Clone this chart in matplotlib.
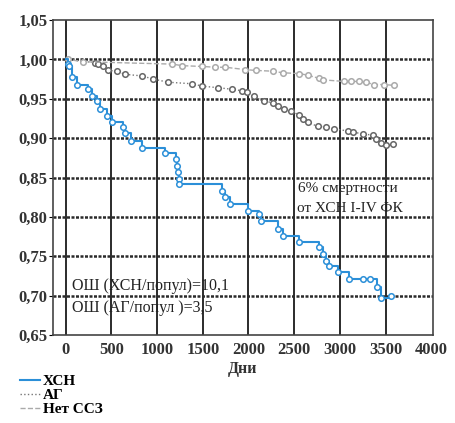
import matplotlib
matplotlib.use('Agg')
import matplotlib.pyplot as plt

# ХСН (blue, step)
hsn_days = [0, 22, 33, 66, 120, 242, 285, 340, 374, 450, 505, 626, 648, 714, 835, 1088,
            1209, 1220, 1230, 1238, 1242, 1714, 1747, 1802, 2000, 2110, 2132, 2319, 2374,
            2549, 2769, 2813, 2846, 2879, 2978, 3099, 3253, 3330, 3407, 3451, 3560]
hsn_surv = [1.0, 0.994, 0.991, 0.977, 0.967, 0.962, 0.953, 0.947, 0.937, 0.928, 0.920, 0.914,
            0.907, 0.896, 0.888, 0.881, 0.873, 0.865, 0.857, 0.848, 0.842, 0.833, 0.825, 0.816,
            0.808, 0.804, 0.795, 0.785, 0.776, 0.768, 0.762, 0.753, 0.744, 0.738, 0.730,
            0.721, 0.721, 0.721, 0.711, 0.697, 0.699]

# АГ (dark gray, dotted)
ag_days = [0, 319, 352, 407, 462, 560, 648, 835, 956, 1121, 1385, 1495, 1670, 1824, 1934,
           1989, 2055, 2165, 2264, 2319, 2385, 2462, 2549, 2593, 2648, 2758, 2846, 2934,
           3088, 3143, 3253, 3363, 3396, 3451, 3505, 3582]
ag_surv = [1.0, 0.996, 0.994, 0.991, 0.986, 0.985, 0.981, 0.979, 0.975, 0.971, 0.969, 0.966,
           0.964, 0.962, 0.960, 0.958, 0.953, 0.947, 0.945, 0.941, 0.937, 0.934, 0.930,
           0.924, 0.920, 0.915, 0.914, 0.912, 0.909, 0.908, 0.905, 0.904, 0.899, 0.894,
           0.891, 0.892]

# Нет ССЗ (light gray, dashed)
norm_days = [0, 22, 187, 1165, 1275, 1495, 1637, 1747, 1967, 2077, 2264, 2374, 2549, 2648,
             2769, 2813, 3044, 3121, 3209, 3286, 3374, 3484, 3593]
norm_surv = [1.0, 1.0, 0.997, 0.994, 0.992, 0.991, 0.990, 0.990, 0.987, 0.986, 0.985, 0.983,
             0.982, 0.980, 0.976, 0.974, 0.972, 0.972, 0.972, 0.971, 0.968, 0.968, 0.967]

x_ticks = [0, 500, 1000, 1500, 2000, 2500, 3000, 3500, 4000]
y_ticks = [0.65, 0.70, 0.75, 0.80, 0.85, 0.90, 0.95, 1.00, 1.05]

plt.rcParams['font.family'] = ['Liberation Serif', 'DejaVu Serif']

fig = plt.figure(figsize=(4.55, 4.23), dpi=100)
ax = fig.add_axes([53 / 455, 1 - 335 / 423, 380 / 455, 315 / 423])

for x in x_ticks[:-1]:
    ax.axvline(x, color='#1a1a1a', lw=1.3, zorder=1)
for y in y_ticks[1:-1]:
    ax.axhline(y, color='#2a2a2a', lw=1.8, ls=(0, (1.2, 0.6)), zorder=1)

l1, = ax.plot(hsn_days, hsn_surv, drawstyle='steps-post', color='#2b8fd8', lw=1.5, zorder=4)
ax.plot(hsn_days[1:], hsn_surv[1:], 'o', ls='none', mfc='white', mec='#2b8fd8',
        ms=4, mew=1.1, zorder=5)

l2, = ax.plot(ag_days, ag_surv, color='#777777', lw=1.0, ls=':', zorder=3)
ax.plot(ag_days[1:], ag_surv[1:], 'o', ls='none', mfc='white', mec='#666666',
        ms=4, mew=1.1, zorder=3)

l3, = ax.plot(norm_days, norm_surv, color='#aaaaaa', lw=1.0, ls='--', zorder=3)
ax.plot(norm_days[1:], norm_surv[1:], 'o', ls='none', mfc='white', mec='#aaaaaa',
        ms=4, mew=1.1, zorder=3)

ax.set_xlim(-140, 4020)
ax.set_ylim(0.65, 1.05)
ax.set_xticks(x_ticks)
ax.set_yticks(y_ticks)
ax.set_xticklabels([str(v) for v in x_ticks], fontsize=12, fontweight='bold', color='#333333')
ax.set_yticklabels([('%.2f' % v).replace('.', ',') for v in y_ticks], fontsize=12,
                   fontweight='bold', color='#333333')
ax.tick_params(axis='x', length=0, pad=5)
ax.tick_params(axis='y', length=3, pad=1)
for s in ax.spines.values():
    s.set_color('#444444')
    s.set_linewidth(1.2)
ax.set_xlabel('Дни', fontsize=11.5, fontweight='bold', color='#333333', labelpad=2)

ax.text(2540, 0.831, '6% смертности', fontsize=11, color='#222222')
ax.text(2530, 0.806, 'от ХСН I-IV ФК', fontsize=11, color='#222222')
ax.text(66, 0.707, 'ОШ (ХСН/попул)=10,1', fontsize=11.5, color='#222222')
ax.text(66, 0.679, 'ОШ (АГ/попул )=3,5', fontsize=11.5, color='#222222')

fig.legend([l1, l2, l3], ['ХСН', 'АГ', 'Нет ССЗ'], loc='upper left',
           bbox_to_anchor=(0.028, 0.132), frameon=False,
           prop={'weight': 'bold', 'size': 11}, handlelength=1.3, handletextpad=0.15,
           labelspacing=0.0, borderpad=0)

fig.savefig('out.png', dpi=100)
